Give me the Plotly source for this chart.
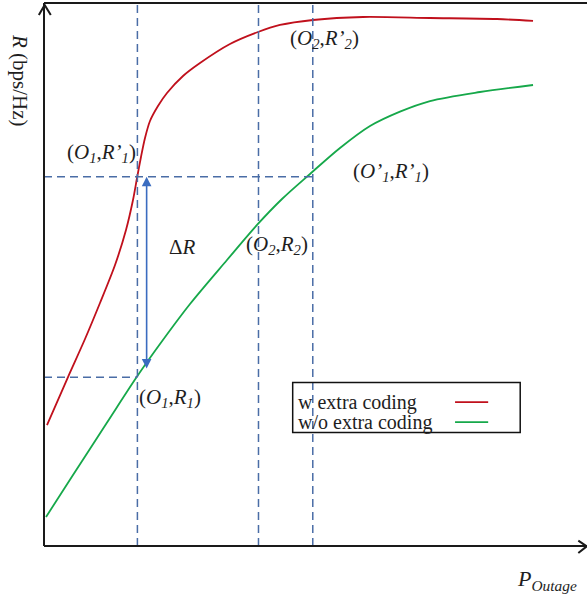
import plotly.graph_objects as go

# ---- data (arbitrary units: P_outage 0..10, R 0..10) ----
red_x = [0.055, 0.442, 0.755, 1.031, 1.308, 1.510, 1.639, 1.713, 1.786, 1.860, 1.952, 2.099, 2.265,
         2.560, 2.873, 3.425, 3.941, 4.346, 4.954, 5.875, 7.109, 8.343, 9.006]
red_y = [2.228, 3.112, 3.812, 4.475, 5.175, 5.820, 6.372, 6.777, 7.164, 7.514, 7.827, 8.103, 8.343,
         8.656, 8.895, 9.245, 9.466, 9.595, 9.687, 9.742, 9.724, 9.705, 9.669]
green_x = [0.037, 0.534, 1.155, 1.707, 2.136, 2.689, 3.370, 3.923, 4.383, 4.899, 5.451, 6.004,
           6.556, 7.109, 8.029, 9.006]
green_y = [0.534, 1.308, 2.265, 3.112, 3.720, 4.457, 5.267, 5.912, 6.390, 6.851, 7.330, 7.735,
           8.000, 8.195, 8.361, 8.490]

O1, O2, O1p = 1.72, 3.95, 4.95
R1, R1p = 3.11, 6.80
arrow_x, arrow_lo = 1.89, 3.24

legend_names = ["w extra coding", "w/o extra coding"]
legend_y = [2.65, 2.28]

RED = "#c0101c"
GREEN = "#16a84a"
DASH = "#4a6da6"
ARROW = "#3a6cc0"
TXT = "#1e1e1e"
FONT = "Liberation Serif"

fig = go.Figure()
fig.add_trace(go.Scatter(x=red_x, y=red_y, mode="lines",
                         line=dict(color=RED, width=1.8, shape="spline", smoothing=0.8), hoverinfo="skip"))
fig.add_trace(go.Scatter(x=green_x, y=green_y, mode="lines",
                         line=dict(color=GREEN, width=1.8, shape="spline", smoothing=0.9), hoverinfo="skip"))

dash_kw = dict(mode="lines", line=dict(color=DASH, width=1.5, dash="8px,5px"), hoverinfo="skip")
for xv in [O1, O2, O1p]:
    fig.add_trace(go.Scatter(x=[xv, xv], y=[0, 10], **dash_kw))
fig.add_trace(go.Scatter(x=[0, O1p], y=[R1p, R1p], **dash_kw))
fig.add_trace(go.Scatter(x=[0, O1], y=[R1, R1], **dash_kw))

# legend sample lines
fig.add_trace(go.Scatter(x=[7.57, 8.18], y=[legend_y[0]] * 2, mode="lines", line=dict(color=RED, width=1.8), hoverinfo="skip"))
fig.add_trace(go.Scatter(x=[7.57, 8.18], y=[legend_y[1]] * 2, mode="lines", line=dict(color=GREEN, width=1.8), hoverinfo="skip"))

shapes = []
# legend box
shapes.append(dict(type="rect", xref="x", yref="y", x0=4.58, x1=8.77, y0=2.09, y1=3.01,
                   line=dict(color="#111", width=1.5), fillcolor="rgba(0,0,0,0)"))
# axes (paper coords)
ax_line = dict(color="#1a1a1a", width=2)
shapes.append(dict(type="line", xref="paper", yref="paper", x0=0, x1=0, y0=0, y1=1.0, line=ax_line))
shapes.append(dict(type="line", xref="paper", yref="paper", x0=0, x1=1, y0=0, y1=0, line=ax_line))
shapes.append(dict(type="line", xref="paper", yref="paper", x0=0, x1=1, y0=1.0, y1=1.0, line=ax_line))
# chevrons
shapes.append(dict(type="path", xref="paper", yref="paper",
                   path="M -0.0095,0.978 L 0.0012,0.9965 L 0.0125,0.978", line=ax_line))
shapes.append(dict(type="path", xref="paper", yref="paper",
                   path="M 0.984,0.0098 L 0.9995,-0.0006 L 0.984,-0.0128", line=ax_line))

annotations = []
def lab(x, y, text, size=21):
    annotations.append(dict(x=x, y=y, xref="x", yref="y", text=text, showarrow=False,
                            font=dict(family=FONT, size=size, color=TXT), xanchor="center", yanchor="middle"))

lab(1.05, 7.24, "(<i>O<sub>1</sub></i>,<i>R’<sub>1</sub></i>)")
lab(5.17, 9.34, "(<i>O<sub>2</sub></i>,<i>R’<sub>2</sub></i>)")
lab(6.39, 6.89, "(<i>O’<sub>1</sub></i>,<i>R’<sub>1</sub></i>)")
lab(2.55, 5.51, "Δ<i>R</i>")
lab(4.30, 5.54, "(<i>O<sub>2</sub></i>,<i>R<sub>2</sub></i>)")
lab(2.32, 2.73, "(<i>O<sub>1</sub></i>,<i>R<sub>1</sub></i>)")

for name, yv in zip(legend_names, legend_y):
    annotations.append(dict(x=4.64, y=yv, xref="x", yref="y", text=name, showarrow=False,
                            font=dict(family=FONT, size=20, color=TXT), xanchor="left", yanchor="middle"))

# double arrow Delta R
annotations.append(dict(x=arrow_x, y=R1p, ax=arrow_x, ay=arrow_lo, xref="x", yref="y", axref="x", ayref="y",
                        text="", showarrow=True, arrowhead=2, startarrowhead=2, arrowside="end+start",
                        arrowsize=1.2, startarrowsize=1.2, arrowwidth=1.6, arrowcolor=ARROW, standoff=0, startstandoff=0))

# axis titles
annotations.append(dict(x=-0.044, y=0.858, xref="paper", yref="paper", text="<i>R</i> (bps/Hz)", textangle=90,
                        showarrow=False, font=dict(family=FONT, size=21, color=TXT), xanchor="center", yanchor="middle"))
annotations.append(dict(x=0.926, y=-0.063, xref="paper", yref="paper", text="<i>P<sub>Outage</sub></i>",
                        showarrow=False, font=dict(family=FONT, size=22, color=TXT), xanchor="center", yanchor="middle"))

fig.update_layout(
    width=587, height=599,
    margin=dict(l=44, r=0, t=3, b=53),
    paper_bgcolor="white", plot_bgcolor="white",
    showlegend=False,
    xaxis=dict(range=[0, 10], visible=False, fixedrange=True),
    yaxis=dict(range=[0, 10], visible=False, fixedrange=True),
    shapes=shapes, annotations=annotations,
)
fig.write_html("out.html", config={"displayModeBar": False},
               post_script="document.body.style.margin='0';document.body.style.overflow='hidden';")
